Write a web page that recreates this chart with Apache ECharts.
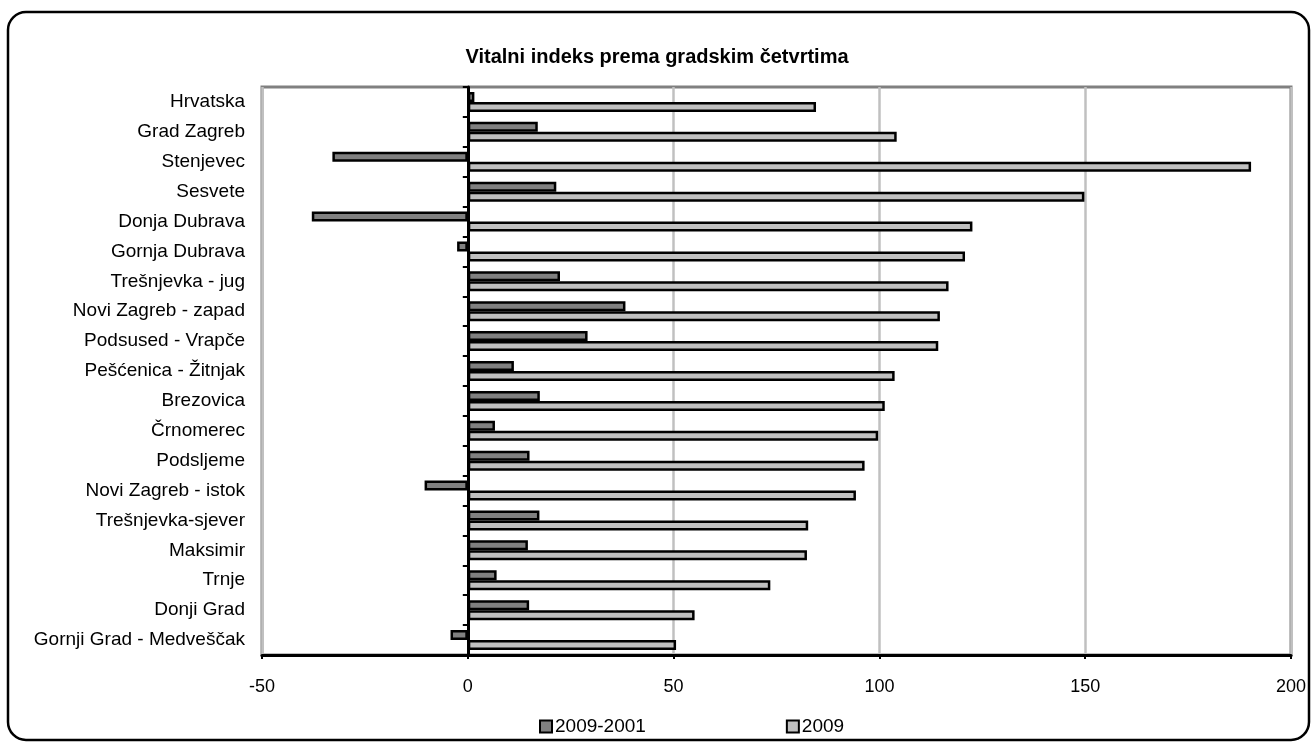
<!DOCTYPE html>
<html>
<head>
<meta charset="utf-8">
<script src="https://cdn.jsdelivr.net/npm/echarts@6/dist/echarts.min.js"></script>
<style>
html,body{margin:0;padding:0;background:#fff;}
#chart{width:1314px;height:745px;}
</style>
</head>
<body>
<div id="chart"></div>
<script>
var categories = ["Hrvatska","Grad Zagreb","Stenjevec","Sesvete","Donja Dubrava","Gornja Dubrava","Trešnjevka - jug","Novi Zagreb - zapad","Podsused - Vrapče","Pešćenica - Žitnjak","Brezovica","Črnomerec","Podsljeme","Novi Zagreb - istok","Trešnjevka-sjever","Maksimir","Trnje","Donji Grad","Gornji Grad - Medveščak"];
var change20092001 = [1.6, 17.0, -32.9, 21.5, -37.9, -2.6, 22.4, 38.3, 29.1, 11.2, 17.5, 6.6, 15.0, -10.5, 17.4, 14.6, 7.0, 14.9, -4.2];
var index2009 = [84.6, 104.2, 190.3, 149.8, 122.6, 120.8, 116.8, 114.7, 114.3, 103.7, 101.3, 99.7, 96.4, 94.3, 82.7, 82.4, 73.5, 55.1, 50.6];
var seriesNames = ["2009-2001", "2009"];
var titleText = "Vitalni indeks prema gradskim četvrtima";

var FONT = "Liberation Sans, Arial, sans-serif";
var chart = echarts.init(document.getElementById('chart'), null, {renderer: 'canvas'});
chart.setOption({
  animation: false,
  backgroundColor: '#fff',
  textStyle: {fontFamily: FONT, color: '#000'},
  title: {
    text: titleText,
    left: 'center',
    top: 42,
    textStyle: {fontFamily: FONT, fontSize: 20, fontWeight: 'bold', color: '#000'}
  },
  legend: {
    data: seriesNames,
    left: 534,
    top: 712,
    icon: 'rect',
    itemWidth: 12,
    itemHeight: 12,
    itemGap: 140,
    textStyle: {fontFamily: FONT, fontSize: 19, color: '#000', padding: [0,0,0,-2]}
  },
  graphic: [{
    type: 'rect',
    shape: {x: 8, y: 12, width: 1301, height: 728, r: 18},
    style: {fill: 'none', stroke: '#000', lineWidth: 2.5},
    silent: true,
    z: 100
  }],
  grid: {
    left: 262, right: 23, top: 87, bottom: 90,
    show: true,
    borderColor: '#808080',
    borderWidth: 3,
    backgroundColor: 'transparent'
  },
  xAxis: {
    type: 'value',
    min: -50, max: 200, interval: 50,
    axisLine: {show: true, lineStyle: {color: '#000', width: 3}},
    axisTick: {show: true, length: 4, lineStyle: {color: '#000', width: 2}},
    axisLabel: {fontFamily: FONT, fontSize: 18, color: '#000', margin: 23},
    splitLine: {show: true, lineStyle: {color: '#c0c0c0', width: 2.5}}
  },
  yAxis: [{
    type: 'category',
    data: categories,
    inverse: true,
    position: 'left',
    axisLine: {show: false, onZero: false},
    axisTick: {show: false},
    axisLabel: {fontFamily: FONT, fontSize: 19, color: '#000', margin: 17}
  }, {
    type: 'category',
    data: categories,
    inverse: true,
    position: 'left',
    axisLine: {show: true, onZero: true, lineStyle: {color: '#000', width: 3}},
    axisTick: {show: true, length: 5, lineStyle: {color: '#000', width: 2}},
    axisLabel: {show: false},
    splitLine: {show: false}
  }],
  series: [{
    name: seriesNames[0],
    type: 'bar',
    data: change20092001,
    barWidth: 10,
    barGap: '0%',
    itemStyle: {color: '#808080', borderColor: '#000', borderWidth: 2.5},
    z: 3
  }, {
    name: seriesNames[1],
    type: 'bar',
    data: index2009,
    barWidth: 10,
    barGap: '0%',
    itemStyle: {color: '#c0c0c0', borderColor: '#000', borderWidth: 2.5},
    z: 3
  }]
});
</script>
</body>
</html>
